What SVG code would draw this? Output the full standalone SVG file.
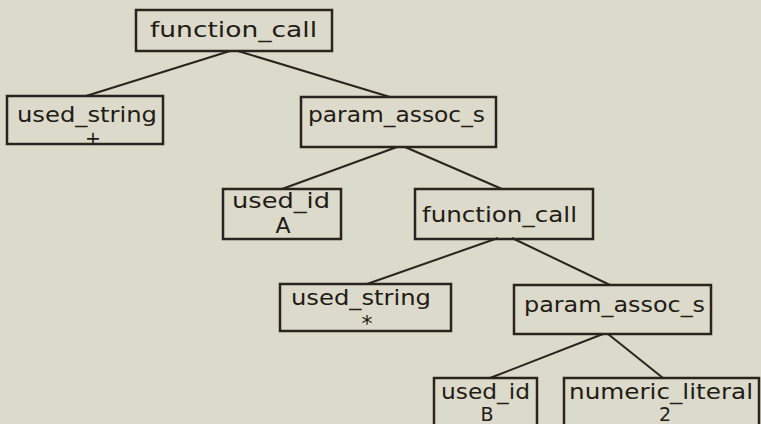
<svg xmlns="http://www.w3.org/2000/svg" width="761" height="424" viewBox="0 0 761 424">
<style>
.bg{fill:#dcdacb}
.box{fill:none;stroke:#2b231d;stroke-width:2.5}
.edge{stroke:#2b231d;stroke-width:2;fill:none}
.t{font-family:"DejaVu Sans","Liberation Sans",sans-serif;font-size:22px;fill:#221b16}
.c{text-anchor:middle}
.s{font-size:19px}
</style>
<rect class="bg" x="0" y="0" width="761" height="424"/>
<g id="connectors">
<line class="edge" x1="230" y1="51" x2="86" y2="96"/>
<line class="edge" x1="238" y1="51" x2="390" y2="97"/>
<line class="edge" x1="397" y1="147" x2="282" y2="189"/>
<line class="edge" x1="405" y1="147" x2="502" y2="189"/>
<line class="edge" x1="498" y1="238" x2="367" y2="284"/>
<line class="edge" x1="512" y1="238" x2="610" y2="285"/>
<line class="edge" x1="603" y1="334" x2="490" y2="378"/>
<line class="edge" x1="608" y1="334" x2="663" y2="378"/>
</g>
<g id="n_function_call_root">
<rect class="box" x="136" y="10" width="196" height="41"/>
<text class="t" x="150" y="37" textLength="167" lengthAdjust="spacingAndGlyphs">function_call</text>
</g>
<g id="n_used_string_plus">
<rect class="box" x="7" y="96" width="156" height="48"/>
<text class="t" x="17" y="122" textLength="140" lengthAdjust="spacingAndGlyphs">used_string</text>
<text class="t c s" x="93" y="145">+</text>
</g>
<g id="n_param_assoc_s_1">
<rect class="box" x="301" y="97" width="195" height="50"/>
<text class="t" x="308" y="122" textLength="177" lengthAdjust="spacingAndGlyphs">param_assoc_s</text>
</g>
<g id="n_used_id_A">
<rect class="box" x="223" y="189" width="118" height="50"/>
<text class="t" x="232" y="208" textLength="98" lengthAdjust="spacingAndGlyphs">used_id</text>
<text class="t c" x="283" y="233">A</text>
</g>
<g id="n_function_call_2">
<rect class="box" x="415" y="189" width="178" height="50"/>
<text class="t" x="422" y="222" textLength="155" lengthAdjust="spacingAndGlyphs">function_call</text>
</g>
<g id="n_used_string_star">
<rect class="box" x="280" y="284" width="171" height="47"/>
<text class="t" x="291" y="305" textLength="140" lengthAdjust="spacingAndGlyphs">used_string</text>
<text class="t c" x="367" y="331">*</text>
</g>
<g id="n_param_assoc_s_2">
<rect class="box" x="514" y="285" width="197" height="49"/>
<text class="t" x="524" y="312" textLength="181" lengthAdjust="spacingAndGlyphs">param_assoc_s</text>
</g>
<g id="n_used_id_B">
<rect class="box" x="434" y="378" width="103" height="50"/>
<text class="t" x="441" y="399" textLength="89" lengthAdjust="spacingAndGlyphs">used_id</text>
<text class="t c s" x="487" y="421">B</text>
</g>
<g id="n_numeric_literal_2">
<rect class="box" x="564" y="378" width="195" height="50"/>
<text class="t" x="569" y="399" textLength="184" lengthAdjust="spacingAndGlyphs">numeric_literal</text>
<text class="t c s" x="665" y="421">2</text>
</g>
</svg>
